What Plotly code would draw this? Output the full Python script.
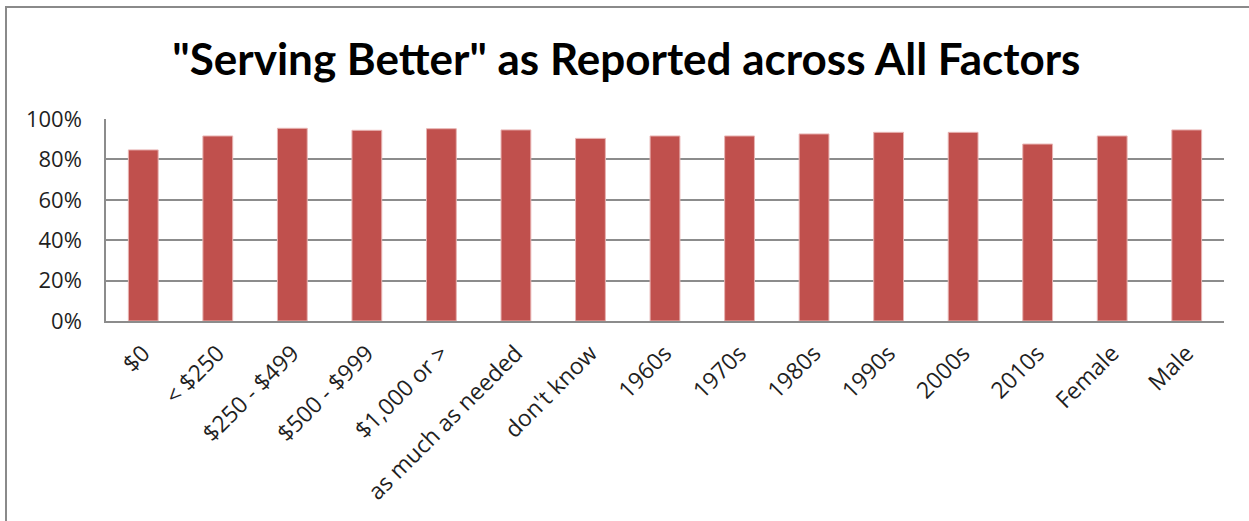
import plotly.graph_objects as go

categories = ["$0", "< $250", "$250 - $499", "$500 - $999", "$1,000 or >",
              "as much as needed", "don't know", "1960s", "1970s", "1980s",
              "1990s", "2000s", "2010s", "Female", "Male"]
serving_better = [0.847, 0.916, 0.954, 0.944, 0.952, 0.946, 0.904, 0.916,
                  0.916, 0.926, 0.934, 0.934, 0.876, 0.916, 0.946]
y_tick_values = [0, 0.2, 0.4, 0.6, 0.8, 1.0]
y_tick_labels = ["0%", "20%", "40%", "60%", "80%", "100%"]
title_text = '"Serving Better" as Reported across All Factors'

W, H = 1249, 521
L, R, T, B = 106, 25, 119, 200
pw = W - L - R
ph = H - T - B

fig = go.Figure()
fig.add_trace(go.Bar(
    x=categories, y=serving_better,
    marker=dict(color="#C0504D", line=dict(color="#E8B4B3", width=1)),
))

def px_to_paper_x(px):
    return (px - L) / pw

def px_to_paper_y(py):
    return (H - B - py) / ph

fig.add_shape(type="rect", xref="paper", yref="paper",
              x0=px_to_paper_x(6), x1=px_to_paper_x(W + 20),
              y0=px_to_paper_y(H + 20), y1=px_to_paper_y(7),
              line=dict(color="#8A8A8A", width=2), fillcolor="rgba(0,0,0,0)",
              layer="below")

fig.update_layout(
    width=W, height=H,
    margin=dict(l=L, r=R, t=T, b=B, pad=0),
    paper_bgcolor="white", plot_bgcolor="white",
    showlegend=False,
    bargap=0.6,
    title=dict(text=title_text, x=0.5015, xanchor="center", y=1 - 60 / H,
               yanchor="middle", yref="container",
               font=dict(family="Lato", size=44, color="#000000", weight="bold")),
    font=dict(family="Open Sans", color="#1F1F1F"),
)
fig.update_yaxes(range=[0, 1.0], tickvals=y_tick_values, ticktext=y_tick_labels,
                 showgrid=True, gridcolor="#8C8C8C", gridwidth=1.5,
                 showline=True, linecolor="#8C8C8C", linewidth=1.5,
                 zeroline=False, ticks="", ticklabelstandoff=18,
                 tickfont=dict(family="Open Sans", size=22, color="#1F1F1F"))
fig.update_xaxes(showline=True, linecolor="#8C8C8C", linewidth=1.5,
                 showgrid=False, ticks="", tickangle=-45, ticklabelstandoff=8,
                 tickfont=dict(family="Open Sans", size=23, color="#1F1F1F"))

fig.write_html("out.html", config={"displayModeBar": False},
               post_script="document.body.style.margin='0';document.body.style.padding='0';")
